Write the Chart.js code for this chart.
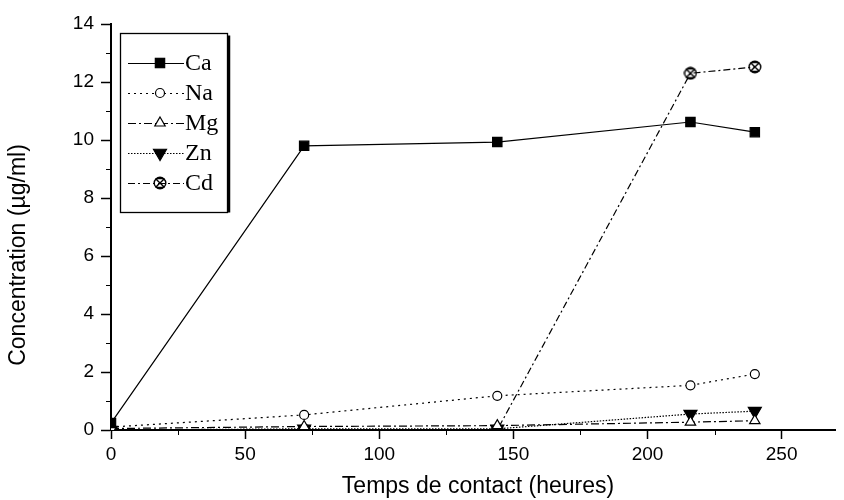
<!DOCTYPE html>
<html>
<head>
<meta charset="utf-8">
<script src="https://cdn.jsdelivr.net/npm/chart.js@4/dist/chart.umd.min.js"></script>
<style>
  html, body { margin: 0; padding: 0; background: #fff; }
  #wrap { width: 844px; height: 500px; }
</style>
</head>
<body>
<div id="wrap"><canvas id="c" width="844" height="500"></canvas></div>
<script>
// Contact time (hours) and measured concentrations (µg/ml)
const hours = [0, 72, 144, 216, 240];
const ca = [0.24, 9.8, 9.93, 10.62, 10.27];
const na = [0.1, 0.52, 1.18, 1.54, 1.93];
const mg = [0.05, 0.12, 0.15, 0.27, 0.32];
const zn = [0, 0.04, 0.04, 0.55, 0.65];
const cd = [0, 0, 0, 12.3, 12.52];
const seriesNames = ['Ca', 'Na', 'Mg', 'Zn', 'Cd'];
const xTicks = [0, 50, 100, 150, 200, 250];
const yTicks = [0, 2, 4, 6, 8, 10, 12, 14];

const AXIS_FONT = '"Liberation Sans", Arial, sans-serif';
const SERIF_FONT = '"Liberation Serif", "Times New Roman", serif';

// crossed-circle marker used for Cd
function crossedCircle(size) {
  const cv = document.createElement('canvas');
  cv.width = size; cv.height = size;
  const g = cv.getContext('2d');
  const r = size / 2 - 1.2;
  const c = size / 2;
  g.strokeStyle = '#000';
  g.lineWidth = 1.4;
  g.beginPath(); g.arc(c, c, r, 0, Math.PI * 2); g.stroke();
  const d = r * 0.75;
  g.beginPath();
  g.moveTo(c - d, c - d); g.lineTo(c + d, c + d);
  g.moveTo(c + d, c - d); g.lineTo(c - d, c + d);
  g.moveTo(c - d, c - d); g.lineTo(c + d, c - d);
  g.moveTo(c - d, c + d); g.lineTo(c + d, c + d);
  g.stroke();
  return cv;
}
const cdMarker = crossedCircle(14);

const toPts = arr => arr.map((v, i) => ({ x: hours[i], y: v }));

const styles = [
  { dash: [], point: 'rect', radius: 6.6, fill: '#000', rot: 0 },
  { dash: [2, 4], point: 'circle', radius: 4.5, fill: '#fff', rot: 0 },
  { dash: [8, 3, 2, 3], point: 'triangle', radius: 6, fill: '#fff', rot: 0 },
  { dash: [1.5, 1.5], point: 'triangle', radius: 7.5, fill: '#000', rot: 180 },
  { dash: [7, 3, 2, 3], point: cdMarker, radius: 7, fill: '#fff', rot: 0 }
];
const values = [ca, na, mg, zn, cd];

const datasets = values.map((arr, i) => ({
  label: seriesNames[i],
  data: toPts(arr),
  borderColor: '#000',
  borderWidth: 1.2,
  borderDash: styles[i].dash,
  pointStyle: styles[i].point,
  pointRadius: styles[i].radius,
  pointRotation: styles[i].rot,
  pointBackgroundColor: styles[i].fill,
  pointBorderColor: '#000',
  pointBorderWidth: 1.2,
  tension: 0,
  fill: false
}));

function drawMarker(ctx, st, x, y) {
  ctx.save();
  ctx.setLineDash([]);
  ctx.lineWidth = 1.2;
  ctx.strokeStyle = '#000';
  ctx.fillStyle = st.fill;
  const r = st.radius;
  if (st.point === 'rect') {
    const s = r * Math.SQRT1_2 * 2;
    ctx.fillRect(x - s / 2, y - s / 2, s, s);
    ctx.strokeRect(x - s / 2, y - s / 2, s, s);
  } else if (st.point === 'circle') {
    ctx.beginPath(); ctx.arc(x, y, r, 0, Math.PI * 2); ctx.fill(); ctx.stroke();
  } else if (st.point === 'triangle') {
    ctx.translate(x, y);
    ctx.rotate(st.rot * Math.PI / 180);
    ctx.beginPath();
    ctx.moveTo(0, -r);
    ctx.lineTo(r * Math.cos(Math.PI / 6), r * 0.5);
    ctx.lineTo(-r * Math.cos(Math.PI / 6), r * 0.5);
    ctx.closePath(); ctx.fill(); ctx.stroke();
  } else {
    ctx.drawImage(st.point, x - st.point.width / 2, y - st.point.height / 2);
  }
  ctx.restore();
}

// legend box, axis titles and minor ticks
const decorations = {
  id: 'decorations',
  afterDraw(chart) {
    const ctx = chart.ctx;
    const xs = chart.scales.x, ys = chart.scales.y;
    ctx.save();
    // minor ticks
    ctx.strokeStyle = '#000';
    ctx.lineWidth = 1;
    for (let v = 1; v < 14; v += 2) {
      const py = Math.round(ys.getPixelForValue(v)) + 0.5;
      ctx.beginPath(); ctx.moveTo(xs.left - 5, py); ctx.lineTo(xs.left, py); ctx.stroke();
    }
    for (let v = 25; v < 270; v += 50) {
      const px = Math.round(xs.getPixelForValue(v)) + 0.5;
      ctx.beginPath(); ctx.moveTo(px, ys.bottom); ctx.lineTo(px, ys.bottom + 5); ctx.stroke();
    }
    // axis titles
    ctx.fillStyle = '#000';
    ctx.font = '23px ' + AXIS_FONT;
    ctx.textAlign = 'center';
    ctx.textBaseline = 'middle';
    ctx.fillText('Temps de contact (heures)', 478, 487);
    ctx.translate(19, 255);
    ctx.rotate(-Math.PI / 2);
    ctx.fillText('Concentration (µg/ml)', 0, 0);
    ctx.setTransform(1, 0, 0, 1, 0, 0);

    // legend
    const bx = 120.5, by = 33.5, bw = 107, bh = 179;
    ctx.fillStyle = '#fff';
    ctx.fillRect(bx, by, bw, bh);
    ctx.lineWidth = 1.3;
    ctx.strokeStyle = '#000';
    ctx.strokeRect(bx, by, bw, bh);
    ctx.lineWidth = 2.5;
    ctx.beginPath(); ctx.moveTo(bx + bw + 1.5, by + 2); ctx.lineTo(bx + bw + 1.5, by + bh); ctx.stroke();

    ctx.font = '24px ' + SERIF_FONT;
    ctx.textAlign = 'left';
    ctx.textBaseline = 'middle';
    seriesNames.forEach((name, i) => {
      const y = 63 + i * 30;
      ctx.lineWidth = 1.1;
      ctx.setLineDash(styles[i].dash);
      ctx.beginPath(); ctx.moveTo(128, y + 0.5); ctx.lineTo(184, y + 0.5); ctx.stroke();
      ctx.setLineDash([]);
      drawMarker(ctx, styles[i], 160, y);
      ctx.fillStyle = '#000';
      ctx.fillText(name, 185, y + 1);
    });
    ctx.restore();
  }
};

new Chart(document.getElementById('c'), {
  type: 'line',
  data: { datasets },
  options: {
    responsive: false,
    animation: false,
    events: [],
    layout: { padding: { left: 4, right: 4, top: 24, bottom: 0 } },
    plugins: { legend: { display: false }, tooltip: { enabled: false } },
    scales: {
      x: {
        type: 'linear',
        min: 0, max: 270,
        afterFit(scale) { scale.height = 70; },
        afterBuildTicks(scale) { scale.ticks = xTicks.map(v => ({ value: v })); },
        grid: { drawOnChartArea: false, drawTicks: true, tickLength: 9, tickWidth: 1.5, tickColor: '#000' },
        border: { display: true, color: '#000', width: 2 },
        ticks: { color: '#000', font: { family: AXIS_FONT, size: 19 }, padding: 4, maxRotation: 0 }
      },
      y: {
        type: 'linear',
        min: 0, max: 14,
        afterFit(scale) { scale.width = 107; },
        afterBuildTicks(scale) { scale.ticks = yTicks.map(v => ({ value: v })); },
        grid: { drawOnChartArea: false, drawTicks: true, tickLength: 10, tickWidth: 1.5, tickColor: '#000' },
        border: { display: true, color: '#000', width: 2 },
        ticks: { color: '#000', font: { family: AXIS_FONT, size: 19 }, padding: 7 }
      }
    }
  },
  plugins: [decorations]
});
</script>
</body>
</html>
